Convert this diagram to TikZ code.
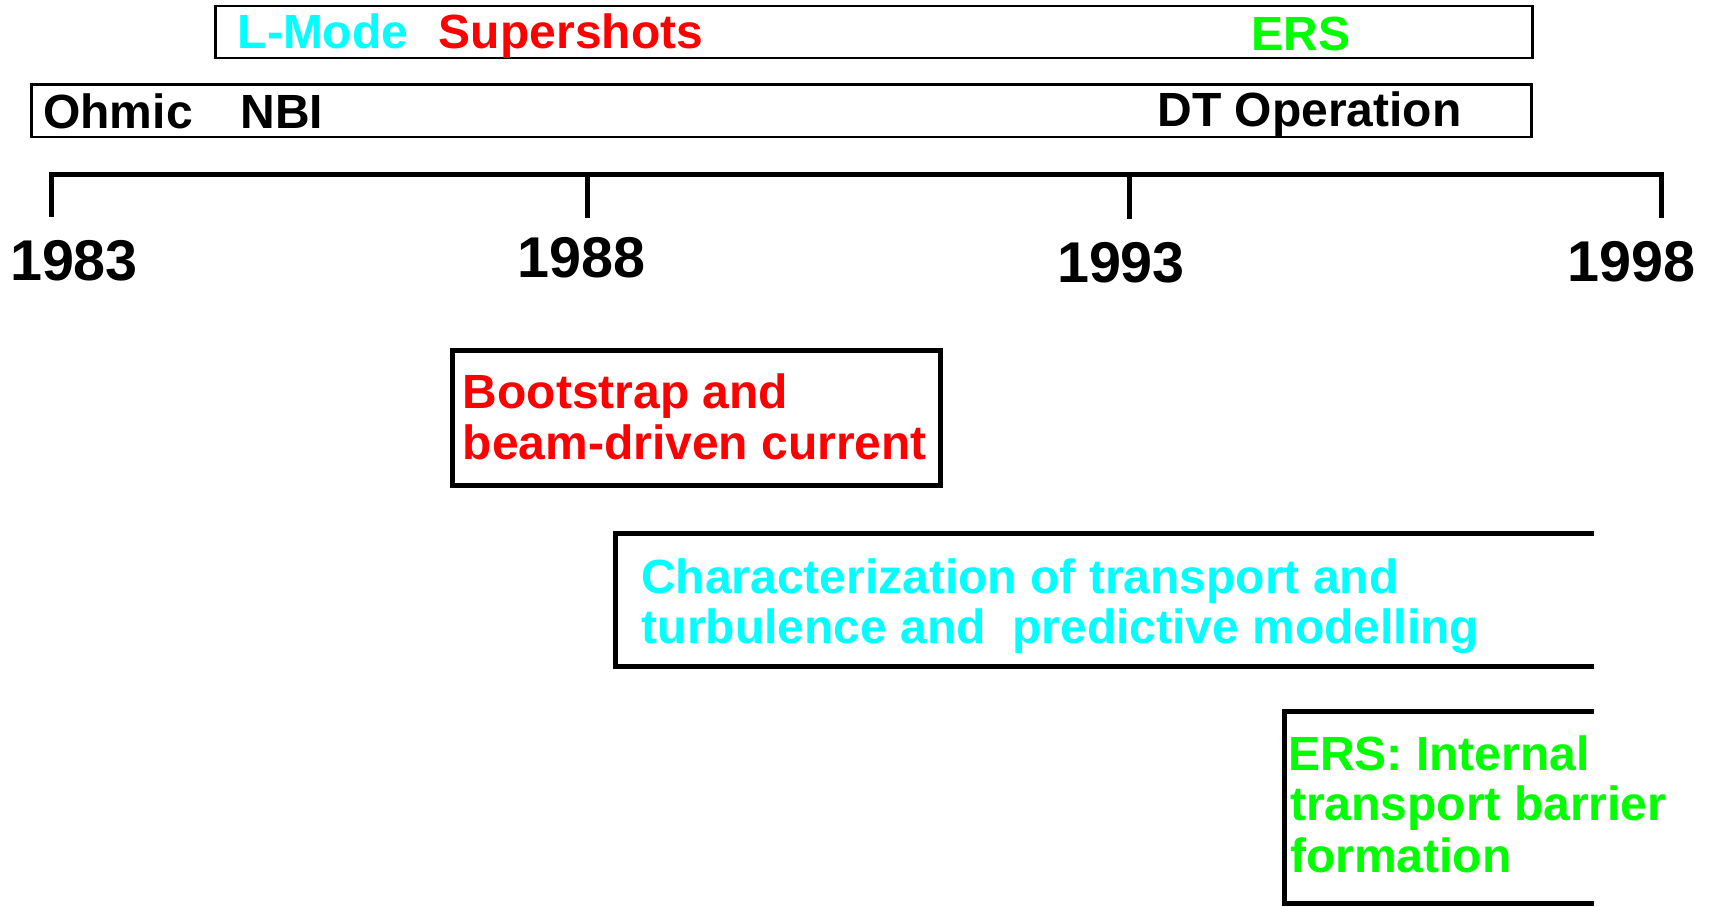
\documentclass[tikz,border=0pt]{standalone}
\usepackage{fontspec}
\usetikzlibrary{calc}
\setmainfont{Liberation Sans}
\definecolor{tcyan}{RGB}{0,255,255}
\definecolor{tred}{RGB}{255,0,0}
\definecolor{tgreen}{RGB}{0,255,0}
\begin{document}
\begin{tikzpicture}[x=1pt,y=-1pt,
  thinbox/.style={draw=black, line width=2.5pt},
  thickbox/.style={draw=black, line width=5pt, line join=miter},
  axis/.style={draw=black, line width=5pt, line join=miter},
  lbl/.style={inner sep=0pt, font=\fontsize{48}{51}\selectfont\bfseries},
  year/.style={inner sep=0pt, anchor=base, font=\fontsize{57.5}{60}\selectfont\bfseries}]
\useasboundingbox[fill=white] (0,0) rectangle (1709,906);

% phase bars
\draw[thinbox] (215.5,6) rectangle (1532.5,58);
\draw[thinbox] (31.5,84.5) rectangle (1531.5,137);
\node[lbl, anchor=base, text=tcyan] (lmode) at (323,48.5) {L-Mode};
\node[lbl, anchor=base, text=tred] (super) at (571,48.5) {Supershots};
\node[lbl, anchor=base, text=tgreen] (ers) at (1301,50) {ERS};
\node[lbl, anchor=base] (ohmic) at (118,128) {Ohmic};
\node[lbl, anchor=base] (nbi) at (282,128) {NBI};
\node[lbl, anchor=base] (dt) at (1309.5,126) {DT Operation};

% time axis
\coordinate (y83) at (51.5,174.5);
\coordinate (y88) at (587,174.5);
\coordinate (y93) at (1129.5,174.5);
\coordinate (y98) at (1661,174.5);
\draw[axis] ($(y83)+(0,42)$) -- (y83) -- (y98) -- ($(y98)+(0,43)$);
\draw[axis] (y88) -- ++(0,43);
\draw[axis] (y93) -- ++(0,44);
\node[year] (l83) at (74,280) {1983};
\node[year] (l88) at (581.5,277.5) {1988};
\node[year] (l93) at (1121,282.5) {1993};
\node[year] (l98) at (1631.5,281.5) {1998};

% research topics
\draw[thickbox] (452,350) rectangle (940,485);
\node[lbl, anchor=base west, text=tred] (bootA) at (462.5,408) {Bootstrap and};
\node[lbl, anchor=base west, text=tred] (bootB) at (462.5,459) {beam-driven current};

\draw[thickbox] (1594,533) -- (615,533) -- (615,666) -- (1594,666);
\node[lbl, anchor=base west, text=tcyan] (charA) at (641,593) {Characterization of transport and};
\node[lbl, anchor=base west, text=tcyan] (charB) at (641.5,643) {turbulence and\ \ predictive modelling};

\draw[thickbox] (1594,711) -- (1284,711) -- (1284,903.5) -- (1594,903.5);
\node[lbl, anchor=base west, text=tgreen] (itbA) at (1288,770) {ERS: Internal};
\node[lbl, anchor=base west, text=tgreen] (itbB) at (1290,820) {transport barrier};
\node[lbl, anchor=base west, text=tgreen] (itbC) at (1290,872) {formation};
\end{tikzpicture}
\end{document}
